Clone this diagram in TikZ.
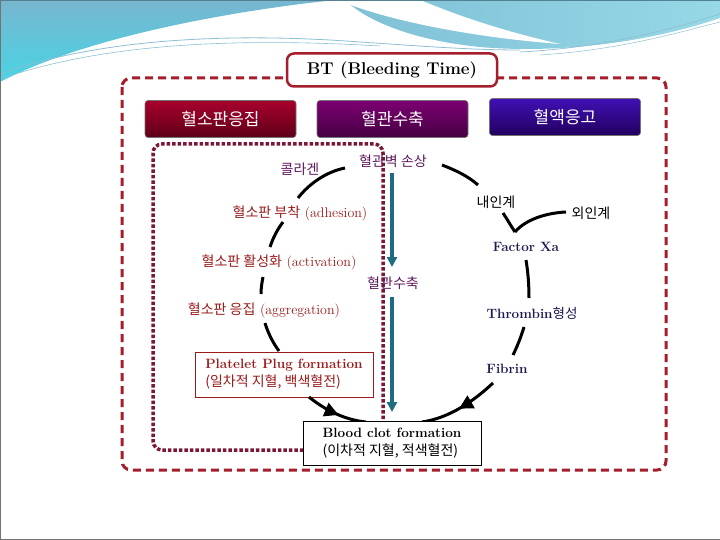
\documentclass[tikz,border=0pt]{standalone}
\usepackage{fontspec}
\newfontfamily\kr{Noto Sans CJK KR}
\usetikzlibrary{arrows.meta,decorations.markings}
\definecolor{framered}{HTML}{A51E2C}
\definecolor{dotplum}{HTML}{7A1838}
\definecolor{lblred}{HTML}{9B1B1B}
\definecolor{lblpurple}{HTML}{5C1A5C}
\definecolor{navytext}{HTML}{1A1A50}
\definecolor{tealarrow}{HTML}{1F6C82}
\definecolor{wavea}{HTML}{78B6CF}
\definecolor{waveb}{HTML}{48D4E4}
\definecolor{wavec}{HTML}{7FC0D6}
\definecolor{waved}{HTML}{96D8E6}
\definecolor{waveline}{HTML}{8CBFD2}
\definecolor{btnAt}{HTML}{A8002C}
\definecolor{btnAb}{HTML}{5E0018}
\definecolor{btnBt}{HTML}{7C0072}
\definecolor{btnBb}{HTML}{460042}
\definecolor{btnCt}{HTML}{4010B4}
\definecolor{btnCb}{HTML}{22005E}
\begin{document}
\begin{tikzpicture}[x=1pt,y=-1pt,
  lab/.style={inner sep=1pt, font=\fontsize{14}{16}\selectfont},
  btn/.style={minimum width=151pt, minimum height=37pt, rounded corners=3pt,
    draw=black!55, line width=0.6pt, text=white, font=\kr\fontsize{17}{19}\selectfont},
  arcline/.style={line width=3pt, black},
  arcarrow/.style={postaction={decorate}, decoration={markings,
    mark=at position #1 with {\arrow{Triangle[length=14pt,width=14pt]}}}},
  tealline/.style={line width=3.5pt, tealarrow, -{Triangle[length=10pt,width=10pt]}},
  outerframe/.style={draw=framered, line width=3pt, dash pattern=on 8pt off 5pt, rounded corners=9pt},
  innerframe/.style={draw=dotplum, line width=3.5pt, dash pattern=on 3.5pt off 2pt, rounded corners=9pt},
  textbox/.style={draw, fill=white, line width=1pt, align=left, inner sep=6pt}
]
\useasboundingbox (0,0) rectangle (720,540);
\fill[white] (0,0) rectangle (720,540);

% background waves
\shade[top color=wavea, bottom color=waveb]
  (0,0) -- (335,0) .. controls (240,10) and (90,35) .. (0,82) -- cycle;
\shade[left color=wavec, right color=waved]
  (345,0) -- (720,0) -- (720,18) .. controls (650,42) and (560,54) .. (480,47)
  .. controls (420,41) and (370,24) .. (345,0) -- cycle;
\fill[white] (338,0) -- (420,0) .. controls (450,12) and (490,28) .. (560,44)
  .. controls (480,38) and (390,22) .. (338,0) -- cycle;
\draw[waveline, line width=0.8pt] (0,74) .. controls (80,45) and (200,30) .. (360,42)
  .. controls (420,46) and (470,50) .. (520,50);
\draw[waveline, line width=0.6pt] (0,79) .. controls (90,48) and (210,36) .. (380,46);
\draw[waveline, line width=0.7pt] (520,52) .. controls (600,48) and (670,30) .. (720,14);
\draw[waveline, line width=0.5pt] (540,55) .. controls (620,50) and (680,32) .. (720,22);
\draw[black!55, line width=1pt] (0.5,0) -- (0.5,539.5) -- (720,539.5);
\draw[wavea!70!black, line width=0.8pt] (0,0.4) -- (720,0.4);

% frames
\draw[outerframe] (122,78) rectangle (666,470);
\draw[innerframe] (153,144) rectangle (383,450);

% title and category buttons
\node[draw=framered, line width=2.5pt, fill=white, rounded corners=7pt,
  minimum width=210pt, minimum height=33pt,
  font=\bfseries\fontsize{17}{19}\selectfont] (bt) at (392,70) {BT (Bleeding Time)};
\node[btn, top color=btnAt, bottom color=btnAb] (b1) at (220.5,119) {혈소판응집};
\node[btn, top color=btnBt, bottom color=btnBb] (b2) at (392.5,119) {혈관수축};
\node[btn, top color=btnCt, bottom color=btnCb] (b3) at (565,117) {혈액응고};

% left chain labels
\node[lab, text=lblpurple, font=\kr\fontsize{14}{16}\selectfont] (col) at (300,169) {콜라겐};
\node[lab, text=lblpurple, font=\kr\fontsize{14}{16}\selectfont] (wall) at (393,161) {혈관벽 손상};
\node[lab, text=lblred] (adh) at (300,213) {{\kr 혈소판 부착} (adhesion)};
\node[lab, text=lblred] (act) at (279,262) {{\kr 혈소판 활성화} (activation)};
\node[lab, text=lblred] (agg) at (264,310) {{\kr 혈소판 응집} (aggregation)};
\node[textbox, draw=lblred, text=lblred, minimum width=178pt, minimum height=45pt,
  font=\fontsize{14}{18}\selectfont] (plug) at (284,374.5)
  {\textbf{\fontsize{13.5}{16}\selectfont Platelet Plug formation}\\{\kr(일차적 지혈, 백색혈전)}};

% teal arrows
\coordinate (ta) at (392,173);
\coordinate (tb) at (392,267);
\coordinate (tc) at (392,297);
\coordinate (td) at (392,412);
\draw[tealline] (ta) -- (tb);
\draw[tealline] (tc) -- (td);
\node[lab, text=lblpurple, font=\kr\fontsize{14}{16}\selectfont] (vc) at (393,283) {혈관수축};

% right chain labels
\node[lab, font=\kr\fontsize{14}{16}\selectfont] (intr) at (496,202) {내인계};
\node[lab, font=\kr\fontsize{14}{16}\selectfont] (extr) at (591,213) {외인계};
\node[lab, text=navytext, font=\bfseries\fontsize{13.5}{16}\selectfont] (fxa) at (526,247) {Factor Xa};
\node[lab, text=navytext, font=\bfseries\fontsize{13.5}{16}\selectfont] (thr) at (532,313) {Thrombin{\kr\mdseries 형성}};
\node[lab, text=navytext, font=\bfseries\fontsize{13.5}{16}\selectfont] (fib) at (507,369) {Fibrin};

% black arcs, left
\coordinate (l1a) at (345,168); \coordinate (l1b) at (298,198);
\coordinate (l2a) at (283,222); \coordinate (l2b) at (270,247);
\coordinate (l3a) at (263,277); \coordinate (l3b) at (261,294);
\coordinate (l4a) at (265,323); \coordinate (l4b) at (279,351);
\coordinate (l5a) at (309,397); \coordinate (l5b) at (366,422);
\draw[arcline] (l1a) .. controls (325,172) and (308,185) .. (l1b);
\draw[arcline] (l2a) .. controls (277,230) and (273,238) .. (l2b);
\draw[arcline] (l3a) .. controls (262,282) and (261,288) .. (l3b);
\draw[arcline] (l4a) .. controls (268,333) and (273,343) .. (l4b);
\draw[arcline, arcarrow=0.55] (l5a) .. controls (325,410) and (345,420) .. (l5b);

% black arcs, right
\coordinate (r1a) at (442,165); \coordinate (r1b) at (478,185);
\coordinate (r2a) at (503,213); \coordinate (j) at (515,232);
\coordinate (ea) at (566,212);
\coordinate (r3a) at (526,260); \coordinate (r3b) at (529,298);
\coordinate (r4a) at (524,327); \coordinate (r4b) at (513,355);
\coordinate (r5a) at (493,383); \coordinate (r5b) at (422,422);
\draw[arcline] (r1a) .. controls (455,170) and (468,176) .. (r1b);
\draw[arcline] (r2a) .. controls (507,219) and (511,226) .. (j);
\draw[arcline] (ea) .. controls (545,213) and (525,220) .. (j);
\draw[arcline] (r3a) .. controls (528,272) and (529,285) .. (r3b);
\draw[arcline] (r4a) .. controls (521,337) and (517,347) .. (r4b);
\draw[arcline, arcarrow=0.52] (r5a) .. controls (475,400) and (450,418) .. (r5b);

% blood clot box
\node[textbox, draw=black, minimum width=178pt, minimum height=44pt,
  font=\fontsize{14}{18}\selectfont] (clot) at (392,443.5)
  {\textbf{\fontsize{13.5}{16}\selectfont Blood clot formation}\\{\kr(이차적 지혈, 적색혈전)}};
\end{tikzpicture}
\end{document}
